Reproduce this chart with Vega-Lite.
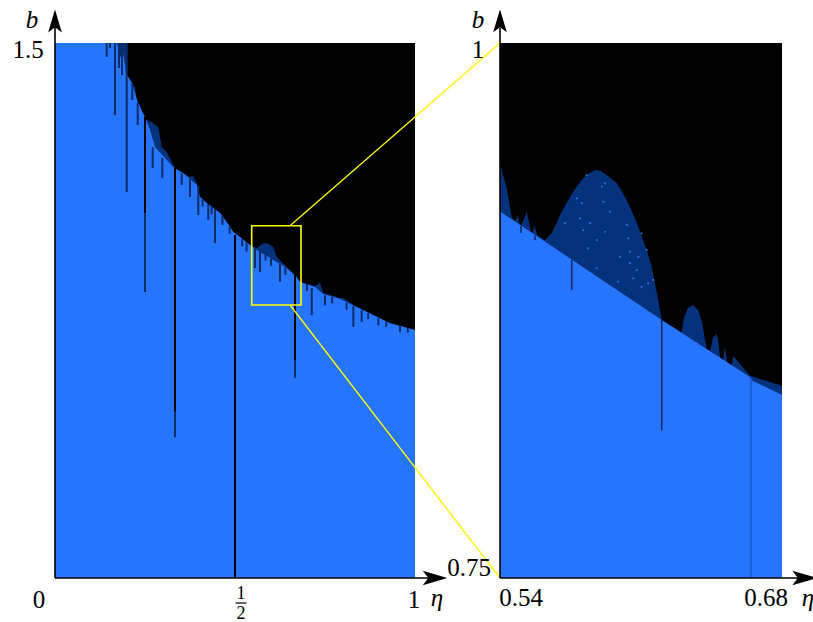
{
  "$schema": "https://vega.github.io/schema/vega-lite/v6.json",
  "autosize": {"type": "none"},
  "padding": {"left": 55, "top": 43, "right": 758, "bottom": 579},
  "background": "white",
  "spacing": 85,
  "bounds": "flush",
  "config": {
    "view": {"fill": "black", "stroke": null},
    "text": {"font": "Liberation Serif", "fontSize": 25, "color": "black"}
  },
  "datasets": {
    "leftNavy": [
      {"eta":0,"b":1.5},{"eta":0.1964,"b":1.5},{"eta":0.1992,"b":1.4159},{"eta":0.2083,"b":1.3878},{"eta":0.2222,"b":1.3766},{"eta":0.2269,"b":1.3346},{"eta":0.2361,"b":1.3262},{"eta":0.2408,"b":1.3065},{"eta":0.2547,"b":1.2841},{"eta":0.2686,"b":1.2785},{"eta":0.2778,"b":1.2701},{"eta":0.2869,"b":1.2645},{"eta":0.2964,"b":1.2084},{"eta":0.3103,"b":1.1944},{"eta":0.3194,"b":1.1776},{"eta":0.3286,"b":1.1579},{"eta":0.3381,"b":1.1439},{"eta":0.3564,"b":1.1355},{"eta":0.375,"b":1.1243},{"eta":0.3842,"b":1.1271},{"eta":0.3936,"b":1.1075},{"eta":0.4028,"b":1.0682},{"eta":0.4214,"b":1.0514},{"eta":0.4397,"b":1.0374},{"eta":0.4583,"b":1.0234},{"eta":0.4769,"b":0.9981},{"eta":0.4953,"b":0.9701},{"eta":0.5139,"b":0.9561},{"eta":0.5417,"b":0.9336},{"eta":0.5603,"b":0.9252},{"eta":0.575,"b":0.9364},{"eta":0.5881,"b":0.9392},{"eta":0.6064,"b":0.928},{"eta":0.6158,"b":0.9},{"eta":0.6436,"b":0.872},{"eta":0.6714,"b":0.8439},{"eta":0.6806,"b":0.8299},{"eta":0.7222,"b":0.8187},{"eta":0.7361,"b":0.8279},{"eta":0.7453,"b":0.7991},{"eta":0.7917,"b":0.785},{"eta":0.8008,"b":0.785},{"eta":0.8381,"b":0.7598},{"eta":0.8842,"b":0.7374},{"eta":0.9306,"b":0.7149},{"eta":1.0,"b":0.6953}
    ],
    "leftBlue": [
      {"eta":0,"b":1.5},{"eta":0.1722,"b":1.5},{"eta":0.1806,"b":1.46},{"eta":0.1889,"b":1.47},{"eta":0.1964,"b":1.43},{"eta":0.1967,"b":1.4159},{"eta":0.2139,"b":1.3878},{"eta":0.2306,"b":1.3318},{"eta":0.25,"b":1.2925},{"eta":0.2639,"b":1.2561},{"eta":0.2778,"b":1.2084},{"eta":0.3056,"b":1.1776},{"eta":0.3278,"b":1.1523},{"eta":0.3556,"b":1.1355},{"eta":0.375,"b":1.1187},{"eta":0.3944,"b":1.1019},{"eta":0.4028,"b":1.0682},{"eta":0.4214,"b":1.0514},{"eta":0.4397,"b":1.0374},{"eta":0.4583,"b":1.0234},{"eta":0.4769,"b":0.9981},{"eta":0.4953,"b":0.9701},{"eta":0.5139,"b":0.9561},{"eta":0.5417,"b":0.9336},{"eta":0.5603,"b":0.9196},{"eta":0.5881,"b":0.9028},{"eta":0.6064,"b":0.8916},{"eta":0.6158,"b":0.886},{"eta":0.6436,"b":0.8692},{"eta":0.6714,"b":0.8439},{"eta":0.6806,"b":0.8299},{"eta":0.7222,"b":0.8159},{"eta":0.7453,"b":0.7963},{"eta":0.7917,"b":0.7822},{"eta":0.8381,"b":0.7598},{"eta":0.8842,"b":0.7374},{"eta":0.9306,"b":0.7141},{"eta":1.0,"b":0.6953}
    ],
    "leftSpikes": [
      {"eta":0.1436,"top":1.5,"bottom":1.461,"kind":"navy"},
      {"eta":0.1528,"top":1.5,"bottom":1.486,"kind":"navy"},
      {"eta":0.1667,"top":1.5,"bottom":1.298,"kind":"navy"},
      {"eta":0.1778,"top":1.5,"bottom":1.43,"kind":"navy"},
      {"eta":0.1861,"top":1.5,"bottom":1.41,"kind":"navy"},
      {"eta":0.1992,"top":1.5,"bottom":1.082,"kind":"navy"},
      {"eta":0.2147,"top":1.388,"bottom":1.34,"kind":"navy"},
      {"eta":0.2297,"top":1.332,"bottom":1.27,"kind":"navy"},
      {"eta":0.25,"top":1.293,"bottom":1.023,"kind":"black"},
      {"eta":0.25,"top":1.023,"bottom":0.802,"kind":"navy"},
      {"eta":0.2714,"top":1.208,"bottom":1.15,"kind":"navy"},
      {"eta":0.2981,"top":1.178,"bottom":1.121,"kind":"navy"},
      {"eta":0.3333,"top":1.152,"bottom":0.466,"kind":"black"},
      {"eta":0.3333,"top":0.466,"bottom":0.395,"kind":"navy"},
      {"eta":0.3519,"top":1.136,"bottom":1.102,"kind":"navy"},
      {"eta":0.375,"top":1.119,"bottom":1.068,"kind":"navy"},
      {"eta":0.3981,"top":1.099,"bottom":1.018,"kind":"navy"},
      {"eta":0.41,"top":1.061,"bottom":1.042,"kind":"navy"},
      {"eta":0.4258,"top":1.049,"bottom":1.004,"kind":"navy"},
      {"eta":0.435,"top":1.041,"bottom":1.02,"kind":"navy"},
      {"eta":0.4444,"top":1.035,"bottom":0.939,"kind":"navy"},
      {"eta":0.465,"top":1.015,"bottom":0.99,"kind":"navy"},
      {"eta":0.485,"top":0.985,"bottom":0.965,"kind":"navy"},
      {"eta":0.5,"top":0.962,"bottom":0,"kind":"black"},
      {"eta":0.52,"top":0.951,"bottom":0.93,"kind":"navy"},
      {"eta":0.532,"top":0.942,"bottom":0.915,"kind":"navy"},
      {"eta":0.5556,"top":0.925,"bottom":0.869,"kind":"navy"},
      {"eta":0.5694,"top":0.917,"bottom":0.858,"kind":"navy"},
      {"eta":0.585,"top":0.905,"bottom":0.89,"kind":"navy"},
      {"eta":0.6,"top":0.896,"bottom":0.875,"kind":"navy"},
      {"eta":0.625,"top":0.88,"bottom":0.83,"kind":"navy"},
      {"eta":0.64,"top":0.871,"bottom":0.85,"kind":"navy"},
      {"eta":0.6667,"top":0.85,"bottom":0.611,"kind":"black"},
      {"eta":0.6667,"top":0.611,"bottom":0.561,"kind":"navy"},
      {"eta":0.7,"top":0.824,"bottom":0.805,"kind":"navy"},
      {"eta":0.7131,"top":0.813,"bottom":0.737,"kind":"navy"},
      {"eta":0.75,"top":0.793,"bottom":0.765,"kind":"navy"},
      {"eta":0.77,"top":0.788,"bottom":0.77,"kind":"navy"},
      {"eta":0.81,"top":0.772,"bottom":0.752,"kind":"navy"},
      {"eta":0.8287,"top":0.763,"bottom":0.704,"kind":"navy"},
      {"eta":0.8519,"top":0.751,"bottom":0.718,"kind":"navy"},
      {"eta":0.87,"top":0.743,"bottom":0.726,"kind":"navy"},
      {"eta":0.8981,"top":0.729,"bottom":0.709,"kind":"navy"},
      {"eta":0.92,"top":0.719,"bottom":0.705,"kind":"navy"},
      {"eta":0.9583,"top":0.709,"bottom":0.69,"kind":"navy"},
      {"eta":0.98,"top":0.701,"bottom":0.688,"kind":"navy"}
    ],
    "yellowLines": [
      {"x1":0.6528,"y1":0.9877,"x2":1.2361,"y2":1.5},
      {"x1":0.6528,"y1":0.7654,"x2":1.2361,"y2":0}
    ],
    "rightNavy": [
      {"eta":0.54,"b":0.9444},{"eta":0.5415,"b":0.9383},{"eta":0.5433,"b":0.9322},{"eta":0.5458,"b":0.9187},{"eta":0.5475,"b":0.9165},{"eta":0.5489,"b":0.9196},{"eta":0.5497,"b":0.915},{"eta":0.5504,"b":0.9145},{"eta":0.5533,"b":0.921},{"eta":0.5554,"b":0.9117},{"eta":0.5562,"b":0.9115},{"eta":0.5571,"b":0.915},{"eta":0.5584,"b":0.9103},{"eta":0.5623,"b":0.9078},{"eta":0.5657,"b":0.9112},{"eta":0.5681,"b":0.9159},{"eta":0.5706,"b":0.921},{"eta":0.5731,"b":0.9252},{"eta":0.5756,"b":0.9294},{"eta":0.5781,"b":0.9329},{"eta":0.5806,"b":0.936},{"eta":0.583,"b":0.9383},{"eta":0.5872,"b":0.9407},{"eta":0.5901,"b":0.9402},{"eta":0.593,"b":0.9383},{"eta":0.5954,"b":0.9364},{"eta":0.5979,"b":0.9346},{"eta":0.6004,"b":0.9308},{"eta":0.6029,"b":0.9266},{"eta":0.6054,"b":0.9215},{"eta":0.6079,"b":0.9159},{"eta":0.6103,"b":0.9098},{"eta":0.6128,"b":0.9033},{"eta":0.6153,"b":0.8953},{"eta":0.6169,"b":0.8879},{"eta":0.6184,"b":0.8808},{"eta":0.6194,"b":0.8752},{"eta":0.6203,"b":0.8706},{"eta":0.6302,"b":0.8646},{"eta":0.6313,"b":0.8715},{"eta":0.6333,"b":0.8762},{"eta":0.6358,"b":0.8776},{"eta":0.6383,"b":0.8752},{"eta":0.6403,"b":0.8696},{"eta":0.6418,"b":0.8612},{"eta":0.6426,"b":0.857},{"eta":0.6443,"b":0.856},{"eta":0.6457,"b":0.8621},{"eta":0.6471,"b":0.864},{"eta":0.6482,"b":0.8621},{"eta":0.6493,"b":0.8529},{"eta":0.6507,"b":0.852},{"eta":0.6517,"b":0.8581},{"eta":0.6527,"b":0.8508},{"eta":0.655,"b":0.8494},{"eta":0.6557,"b":0.8537},{"eta":0.6641,"b":0.8445},{"eta":0.6646,"b":0.8444},{"eta":0.68,"b":0.8397}
    ],
    "rightBlue": [
      {"eta":0.54,"b":0.9213},{"eta":0.6203,"b":0.8706},{"eta":0.6641,"b":0.8439},{"eta":0.6646,"b":0.8425},{"eta":0.68,"b":0.8355}
    ],
    "rightSpikes": [
      {"eta":0.5504,"top":0.9145,"bottom":0.9112,"kind":"navy"},
      {"eta":0.5574,"top":0.9101,"bottom":0.9079,"kind":"navy"},
      {"eta":0.5756,"top":0.8987,"bottom":0.8846,"kind":"navy"},
      {"eta":0.6203,"top":0.8706,"bottom":0.8192,"kind":"navy"},
      {"eta":0.6646,"top":0.8436,"bottom":0.75,"kind":"mid"}
    ],
    "dots": [
      {"eta":0.583,"b":0.9383},{"eta":0.5905,"b":0.9329},{"eta":0.5921,"b":0.9344},{"eta":0.5781,"b":0.9274},{"eta":0.5806,"b":0.9251},{"eta":0.5913,"b":0.9258},{"eta":0.5847,"b":0.9158},{"eta":0.5797,"b":0.9181},{"eta":0.5814,"b":0.9126},{"eta":0.5921,"b":0.9118},{"eta":0.588,"b":0.9079},{"eta":0.6037,"b":0.9087},{"eta":0.5996,"b":0.9001},{"eta":0.6045,"b":0.9025},{"eta":0.6103,"b":0.9111},{"eta":0.6087,"b":0.9001},{"eta":0.6128,"b":0.9033},{"eta":0.6062,"b":0.89},{"eta":0.5987,"b":0.8885},{"eta":0.6103,"b":0.8861},{"eta":0.6136,"b":0.8877},{"eta":0.6161,"b":0.8893},{"eta":0.5723,"b":0.9158},{"eta":0.5838,"b":0.9041},{"eta":0.588,"b":0.8947},{"eta":0.6029,"b":0.915},{"eta":0.5946,"b":0.9212},{"eta":0.6045,"b":0.8971},{"eta":0.6079,"b":0.8939}
    ]
  },
  "hconcat": [
    {
      "width": 360,
      "height": 535,
      "layer": [
        {
          "data": {"name": "leftNavy"},
          "mark": {"type": "area", "color": "#04327C"},
          "encoding": {
            "x": {"field": "eta", "type": "quantitative", "scale": {"domain": [0, 1], "nice": false, "zero": false}, "axis": null},
            "y": {"field": "b", "type": "quantitative", "scale": {"domain": [0, 1.5], "nice": false, "zero": false}, "axis": null},
            "y2": {"datum": 0}
          }
        },
        {
          "data": {"name": "leftBlue"},
          "mark": {"type": "area", "color": "#2675FF"},
          "encoding": {
            "x": {"field": "eta", "type": "quantitative"},
            "y": {"field": "b", "type": "quantitative"},
            "y2": {"datum": 0}
          }
        },
        {
          "data": {"name": "leftSpikes"},
          "mark": {"type": "rule", "strokeWidth": 2},
          "encoding": {
            "x": {"field": "eta", "type": "quantitative"},
            "y": {"field": "top", "type": "quantitative"},
            "y2": {"field": "bottom"},
            "color": {"field": "kind", "type": "nominal", "scale": {"domain": ["black", "navy", "mid"], "range": ["#000000", "#0B2C66", "#1F5BD0"]}, "legend": null}
          }
        },
        {
          "data": {"values": [{}]},
          "mark": {"type": "rect", "filled": false, "stroke": "#FFFF00", "strokeWidth": 1.6},
          "encoding": {
            "x": {"datum": 0.5464}, "x2": {"datum": 0.6833},
            "y": {"datum": 0.7654}, "y2": {"datum": 0.9877}
          }
        },
        {
          "data": {"name": "yellowLines"},
          "mark": {"type": "rule", "stroke": "#FFFF00", "strokeWidth": 1.3},
          "encoding": {
            "x": {"field": "x1", "type": "quantitative"}, "x2": {"field": "x2"},
            "y": {"field": "y1", "type": "quantitative"}, "y2": {"field": "y2"}
          }
        },
        {
          "data": {"values": [{}]},
          "mark": {"type": "rule", "stroke": "black", "strokeWidth": 1.6},
          "encoding": {"x": {"datum": 0}, "x2": {"datum": 1.05}, "y": {"datum": 0}}
        },
        {
          "data": {"values": [{}]},
          "mark": {"type": "rule", "stroke": "black", "strokeWidth": 1.6},
          "encoding": {"x": {"datum": 0}, "y": {"datum": 0}, "y2": {"datum": 1.555}}
        },
        {
          "data": {"values": [{}]},
          "mark": {"type": "point", "shape": "M1,0L-1,-0.6L-0.55,0L-1,0.6Z", "size": 600, "filled": true, "color": "black", "opacity": 1},
          "encoding": {"x": {"datum": 1.0556}, "y": {"datum": 0}}
        },
        {
          "data": {"values": [{}]},
          "mark": {"type": "point", "shape": "M0,-1L-0.6,1L0,0.55L0.6,1Z", "size": 520, "filled": true, "color": "black", "opacity": 1},
          "encoding": {"x": {"datum": 0}, "y": {"datum": 1.5617}}
        },
        {
          "data": {"values": [{"t": "0"}]},
          "mark": {"type": "text", "dx": -16, "dy": 22},
          "encoding": {"x": {"datum": 0}, "y": {"datum": 0}, "text": {"field": "t"}}
        },
        {
          "data": {"values": [{"t": "1"}]},
          "mark": {"type": "text", "dx": 6, "dy": 16, "fontSize": 18},
          "encoding": {"x": {"datum": 0.5}, "y": {"datum": 0}, "text": {"field": "t"}}
        },
        {
          "data": {"values": [{}]},
          "mark": {"type": "tick", "orient": "horizontal", "xOffset": 6, "yOffset": 25, "size": 11, "thickness": 1.2, "color": "black", "opacity": 1},
          "encoding": {"x": {"datum": 0.5}, "y": {"datum": 0}}
        },
        {
          "data": {"values": [{"t": "2"}]},
          "mark": {"type": "text", "dx": 6, "dy": 36, "fontSize": 18},
          "encoding": {"x": {"datum": 0.5}, "y": {"datum": 0}, "text": {"field": "t"}}
        },
        {
          "data": {"values": [{"t": "1"}]},
          "mark": {"type": "text", "dx": -1, "dy": 22},
          "encoding": {"x": {"datum": 1}, "y": {"datum": 0}, "text": {"field": "t"}}
        },
        {
          "data": {"values": [{"t": "η"}]},
          "mark": {"type": "text", "dx": 22, "dy": 20, "fontStyle": "italic"},
          "encoding": {"x": {"datum": 1}, "y": {"datum": 0}, "text": {"field": "t"}}
        },
        {
          "data": {"values": [{"t": "1.5"}]},
          "mark": {"type": "text", "dx": -27, "dy": 7},
          "encoding": {"x": {"datum": 0}, "y": {"datum": 1.5}, "text": {"field": "t"}}
        },
        {
          "data": {"values": [{"t": "b"}]},
          "mark": {"type": "text", "dx": -23, "dy": -23, "fontStyle": "italic"},
          "encoding": {"x": {"datum": 0}, "y": {"datum": 1.5}, "text": {"field": "t"}}
        }
      ]
    },
    {
      "width": 282,
      "height": 535,
      "layer": [
        {
          "data": {"name": "rightNavy"},
          "mark": {"type": "area", "color": "#04327C"},
          "encoding": {
            "x": {"field": "eta", "type": "quantitative", "scale": {"domain": [0.54, 0.68], "nice": false, "zero": false}, "axis": null},
            "y": {"field": "b", "type": "quantitative", "scale": {"domain": [0.75, 1], "nice": false, "zero": false}, "axis": null},
            "y2": {"datum": 0.75}
          }
        },
        {
          "data": {"name": "dots"},
          "mark": {"type": "point", "shape": "square", "size": 3, "filled": true, "color": "#3C86FF", "opacity": 0.8},
          "encoding": {
            "x": {"field": "eta", "type": "quantitative"},
            "y": {"field": "b", "type": "quantitative"}
          }
        },
        {
          "data": {"name": "rightBlue"},
          "mark": {"type": "area", "color": "#2675FF"},
          "encoding": {
            "x": {"field": "eta", "type": "quantitative"},
            "y": {"field": "b", "type": "quantitative"},
            "y2": {"datum": 0.75}
          }
        },
        {
          "data": {"name": "rightSpikes"},
          "mark": {"type": "rule", "strokeWidth": 1.6},
          "encoding": {
            "x": {"field": "eta", "type": "quantitative"},
            "y": {"field": "top", "type": "quantitative"},
            "y2": {"field": "bottom"},
            "color": {"field": "kind", "type": "nominal", "scale": {"domain": ["black", "navy", "mid"], "range": ["#000000", "#0B2C66", "#1F5BD0"]}, "legend": null}
          }
        },
        {
          "data": {"values": [{}]},
          "mark": {"type": "rule", "stroke": "black", "strokeWidth": 1.6},
          "encoding": {"x": {"datum": 0.54}, "x2": {"datum": 0.69}, "y": {"datum": 0.75}}
        },
        {
          "data": {"values": [{}]},
          "mark": {"type": "rule", "stroke": "black", "strokeWidth": 1.6},
          "encoding": {"x": {"datum": 0.54}, "y": {"datum": 0.75}, "y2": {"datum": 1.007}}
        },
        {
          "data": {"values": [{}]},
          "mark": {"type": "point", "shape": "M1,0L-1,-0.6L-0.55,0L-1,0.6Z", "size": 600, "filled": true, "color": "black", "opacity": 1},
          "encoding": {"x": {"datum": 0.6912}, "y": {"datum": 0.75}}
        },
        {
          "data": {"values": [{}]},
          "mark": {"type": "point", "shape": "M0,-1L-0.6,1L0,0.55L0.6,1Z", "size": 520, "filled": true, "color": "black", "opacity": 1},
          "encoding": {"x": {"datum": 0.54}, "y": {"datum": 1.0103}}
        },
        {
          "data": {"values": [{"t": "b"}]},
          "mark": {"type": "text", "dx": -22, "dy": -23, "fontStyle": "italic"},
          "encoding": {"x": {"datum": 0.54}, "y": {"datum": 1}, "text": {"field": "t"}}
        },
        {
          "data": {"values": [{"t": "1"}]},
          "mark": {"type": "text", "dx": -22, "dy": 7},
          "encoding": {"x": {"datum": 0.54}, "y": {"datum": 1}, "text": {"field": "t"}}
        },
        {
          "data": {"values": [{"t": "0.75"}]},
          "mark": {"type": "text", "dx": -31, "dy": -10},
          "encoding": {"x": {"datum": 0.54}, "y": {"datum": 0.75}, "text": {"field": "t"}}
        },
        {
          "data": {"values": [{"t": "0.54"}]},
          "mark": {"type": "text", "dx": 21, "dy": 20},
          "encoding": {"x": {"datum": 0.54}, "y": {"datum": 0.75}, "text": {"field": "t"}}
        },
        {
          "data": {"values": [{"t": "0.68"}]},
          "mark": {"type": "text", "dx": -16, "dy": 20},
          "encoding": {"x": {"datum": 0.68}, "y": {"datum": 0.75}, "text": {"field": "t"}}
        },
        {
          "data": {"values": [{"t": "η"}]},
          "mark": {"type": "text", "dx": 26, "dy": 20, "fontStyle": "italic"},
          "encoding": {"x": {"datum": 0.68}, "y": {"datum": 0.75}, "text": {"field": "t"}}
        }
      ]
    }
  ]
}
